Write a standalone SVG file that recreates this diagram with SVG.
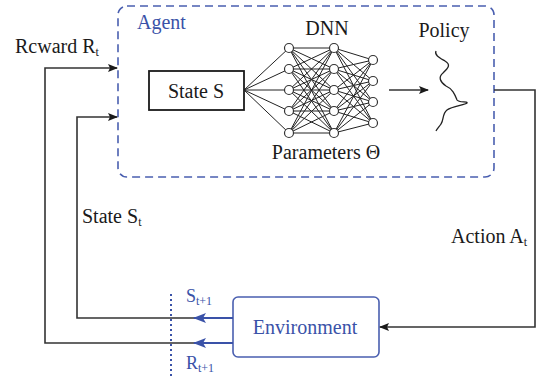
<svg xmlns="http://www.w3.org/2000/svg" width="542" height="376" viewBox="0 0 542 376">
<defs>
<style>
text{font-family:"Liberation Serif","DejaVu Serif","Times New Roman",serif;font-size:20px;fill:#1a1a1a}
.blue{fill:#3a52a8}
.sub{font-size:12px}
.ln{stroke:#333;stroke-width:1.6;fill:none}
.bl{stroke:#3a52a8;stroke-width:2.2;fill:none}
.nn{stroke:#222;stroke-width:1;fill:none}
.nd{fill:#fff;stroke:#333;stroke-width:1.2}
</style>
<marker id="ah" markerWidth="10" markerHeight="8" refX="9" refY="4" orient="auto" markerUnits="userSpaceOnUse">
<path d="M0,0 L10,4 L0,8 L2,4 Z" fill="#1a1a1a"/>
</marker>
<marker id="ahb" markerWidth="13" markerHeight="10" refX="12" refY="5" orient="auto" markerUnits="userSpaceOnUse">
<path d="M0,0 L13,5 L0,10 L3,5 Z" fill="#3a52a8"/>
</marker>
</defs>
<g id="agent">
<rect x="118" y="6" width="376" height="171" rx="9" fill="none" stroke="#4a5fb0" stroke-width="1.6" stroke-dasharray="8,5"/>
<text x="137" y="29" class="blue">Agent</text>
</g>
<g id="state-s">
<rect x="149" y="71" width="95" height="39" fill="#fff" stroke="#1a1a1a" stroke-width="1.8"/>
<text x="196" y="98" text-anchor="middle">State S</text>
</g>
<g id="dnn">
<text x="327" y="35" text-anchor="middle">DNN</text>
<g class="nn">
<path d="M244,90 L289,48 M244,90 L289,69 M244,90 L289,90 M244,90 L289,111 M244,90 L289,133"/>
<path d="M289,48 L334,48 M289,48 L334,69 M289,48 L334,90 M289,48 L334,111 M289,48 L334,133
M289,69 L334,48 M289,69 L334,69 M289,69 L334,90 M289,69 L334,111 M289,69 L334,133
M289,90 L334,48 M289,90 L334,69 M289,90 L334,90 M289,90 L334,111 M289,90 L334,133
M289,111 L334,48 M289,111 L334,69 M289,111 L334,90 M289,111 L334,111 M289,111 L334,133
M289,133 L334,48 M289,133 L334,69 M289,133 L334,90 M289,133 L334,111 M289,133 L334,133"/>
<path d="M334,48 L373,60 M334,48 L373,81 M334,48 L373,102 M334,48 L373,123
M334,69 L373,60 M334,69 L373,81 M334,69 L373,102 M334,69 L373,123
M334,90 L373,60 M334,90 L373,81 M334,90 L373,102 M334,90 L373,123
M334,111 L373,60 M334,111 L373,81 M334,111 L373,102 M334,111 L373,123
M334,133 L373,60 M334,133 L373,81 M334,133 L373,102 M334,133 L373,123"/>
</g>
<circle class="nd" cx="289" cy="48" r="4.5"/>
<circle class="nd" cx="289" cy="69" r="4.5"/>
<circle class="nd" cx="289" cy="90" r="4.5"/>
<circle class="nd" cx="289" cy="111" r="4.5"/>
<circle class="nd" cx="289" cy="133" r="4.5"/>
<circle class="nd" cx="334" cy="48" r="4.5"/>
<circle class="nd" cx="334" cy="69" r="4.5"/>
<circle class="nd" cx="334" cy="90" r="4.5"/>
<circle class="nd" cx="334" cy="111" r="4.5"/>
<circle class="nd" cx="334" cy="133" r="4.5"/>
<circle class="nd" cx="373" cy="60" r="4.5"/>
<circle class="nd" cx="373" cy="81" r="4.5"/>
<circle class="nd" cx="373" cy="102" r="4.5"/>
<circle class="nd" cx="373" cy="123" r="4.5"/>
<text x="326" y="159" text-anchor="middle">Parameters Θ</text>
</g>
<g id="policy">
<text x="444" y="37" text-anchor="middle">Policy</text>
<path d="M436,51 C434,55 440,58 445,61 C452,65 447,69 443,73 C438,77 440,82 446,86 C453,89 455,95 457,100 C459,103 468,101 467,103 C465,105 452,106 447,110 C442,114 444,120 441,124 C439,127 437,129 436,131" fill="none" stroke="#222" stroke-width="1.3"/>
</g>
<g id="environment">
<rect x="233" y="297" width="146" height="60" rx="5" fill="#fff" stroke="#4a5fb0" stroke-width="1.6"/>
<text x="305" y="334" text-anchor="middle" class="blue">Environment</text>
</g>
<g id="connectors">
<path class="ln" d="M389,90 L428,90" marker-end="url(#ah)"/>
<path class="ln" d="M494,90 L535,90 L535,327 L380,327" marker-end="url(#ah)"/>
<path class="ln" d="M194,343 L45,343 L45,68 L117,68" marker-end="url(#ah)"/>
<path class="ln" d="M194,318 L77,318 L77,117 L117,117" marker-end="url(#ah)"/>
<path class="bl" d="M233,318 L194,318" marker-end="url(#ahb)"/>
<path class="bl" d="M233,343 L194,343" marker-end="url(#ahb)"/>
<line x1="171" y1="294" x2="171" y2="376" stroke="#3a52a8" stroke-width="2" stroke-dasharray="2,3"/>
</g>
<g id="labels">
<text x="15" y="53">Rcward R<tspan class="sub" dy="3">t</tspan></text>
<text x="82" y="223">State S<tspan class="sub" dy="3">t</tspan></text>
<text x="451" y="243">Action A<tspan class="sub" dy="3">t</tspan></text>
<text x="186" y="302" class="blue" style="font-size:18px">S<tspan class="sub" dy="3">t+1</tspan></text>
<text x="186" y="369" class="blue" style="font-size:18px">R<tspan class="sub" dy="3">t+1</tspan></text>
</g>
</svg>
